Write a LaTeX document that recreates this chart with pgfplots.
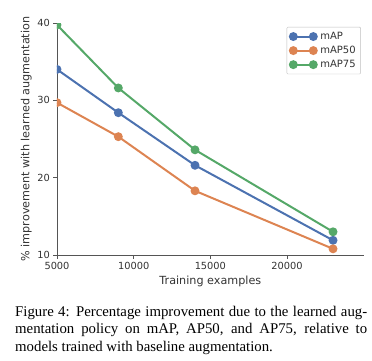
\documentclass[border=0pt]{standalone}
\usepackage{fontspec}
\setmainfont{Liberation Serif}
\newfontfamily\dejavu{DejaVu Sans}
\usepackage{pgfplots}
\pgfplotsset{compat=1.18}
\definecolor{cblue}{HTML}{4C72B0}
\definecolor{corange}{HTML}{DD8452}
\definecolor{cgreen}{HTML}{55A868}
\definecolor{axgray}{HTML}{555555}
\definecolor{txtgray}{HTML}{333333}
\begin{document}
\begin{tikzpicture}[x=1pt,y=1pt]
\begin{axis}[
  at={(57pt,-255pt)}, anchor=south west,
  scale only axis, width=306.7pt, height=232pt,
  xmin=5000, xmax=25000, ymin=10, ymax=40,
  axis x line*=bottom, axis y line*=left,
  axis line style={axgray, line width=0.8pt, -},
  xtick={5000,10000,15000,20000}, ytick={10,20,30,40},
  tick align=outside, major tick length=3.5pt,
  tick style={axgray, line width=0.8pt},
  scaled x ticks=false,
  /pgf/number format/1000 sep={},
  /pgf/number format/assume math mode=true,
  tick label style={font=\dejavu\fontsize{9.8}{11}\selectfont, text=txtgray},
  label style={font=\dejavu\fontsize{11.2}{13}\selectfont, text=txtgray},
  xlabel={Training examples},
  ylabel={\% improvement with learned augmentation},
  ylabel style={yshift=-1pt},
  clip marker paths=true,
  every axis plot/.append style={line width=2pt, mark=*, mark size=3.4pt, mark options={solid}},
  legend style={at={(0.749,0.983)}, anchor=north west, draw=black!25, fill=white,
    font=\dejavu\fontsize{10}{12}\selectfont, text=txtgray, rounded corners=1pt,
    row sep=1.2pt, inner xsep=3pt, inner ysep=3pt},
  legend cell align=left,
  legend image code/.code={\draw[#1] plot coordinates {(0pt,0pt) (20pt,0pt)}; \path (0pt,0pt) -- (24pt,0pt);},
]
\addplot[cblue] coordinates {(5000,34.0) (9000,28.4) (14000,21.6) (23000,11.9)};
\addlegendentry{mAP}
\addplot[corange] coordinates {(5000,29.7) (9000,25.3) (14000,18.3) (23000,10.8)};
\addlegendentry{mAP50}
\addplot[cgreen] coordinates {(5000,39.75) (9000,31.6) (14000,23.6) (23000,13.0)};
\addlegendentry{mAP75}
\end{axis}
\node[anchor=north west, inner sep=0pt, text width=352pt, align=justify,
  font=\fontsize{14.8}{17.75}\selectfont] at (15pt,-303.6pt)
  {\strut Figure 4: Percentage improvement due to the learned aug-\linebreak mentation policy on mAP, AP50, and AP75, relative to\linebreak models trained with baseline augmentation.};
\pgfresetboundingbox
\path (0pt,0pt) rectangle (372pt,-361pt);
\end{tikzpicture}
\end{document}
